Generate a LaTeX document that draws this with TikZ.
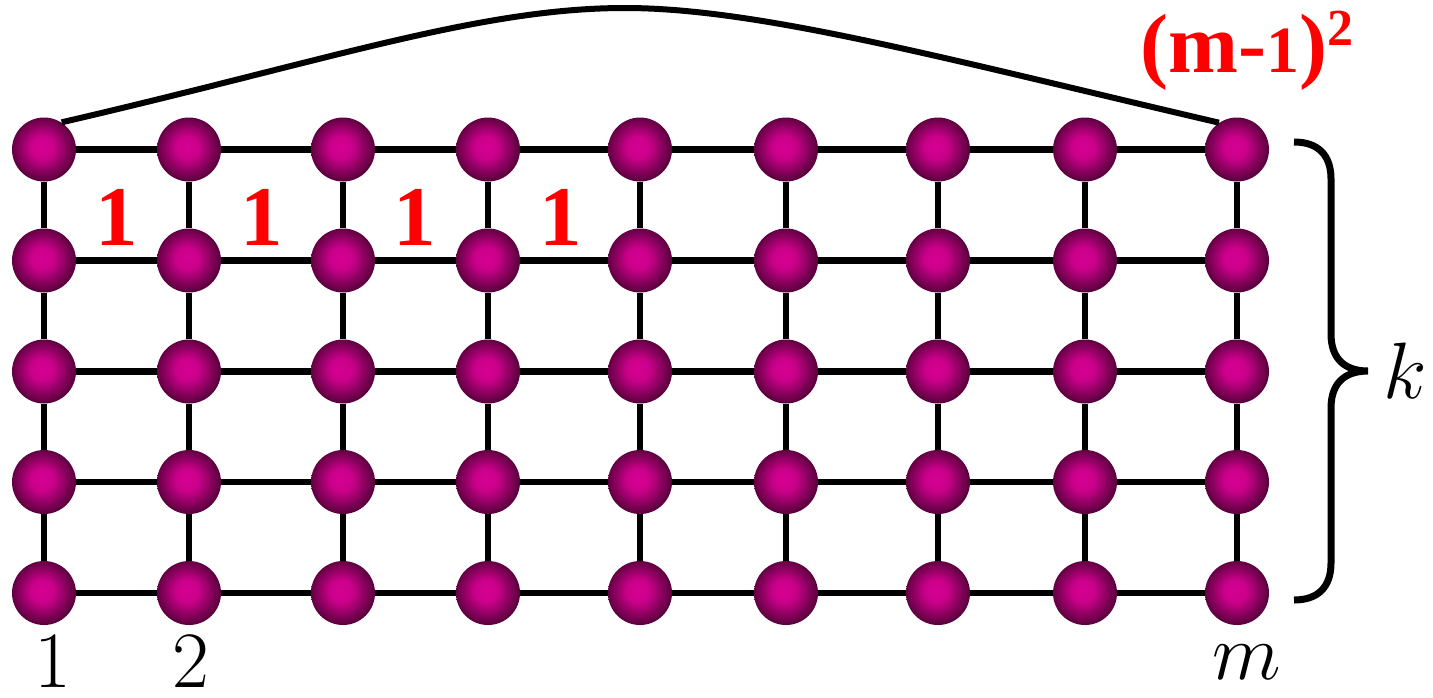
\RequirePackage{fix-cm}
\documentclass[tikz,border=0pt]{standalone}
\usepackage{fontspec}
\newfontfamily\redfont{Liberation Serif}
\definecolor{ballin}{RGB}{214,0,146}
\definecolor{ballout}{RGB}{92,0,62}
\definecolor{lblred}{RGB}{255,0,0}
\pgfdeclareradialshading{ballshade}{\pgfpoint{-2bp}{2bp}}{color(0bp)=(ballin); color(9bp)=(ballin!90!ballout); color(25bp)=(ballout); color(50bp)=(ballout)}
\begin{document}
\begin{tikzpicture}[x=0.5pt,y=-0.5pt,
  ball/.style={circle,minimum size=32pt,inner sep=0pt,shading=ballshade},
  gridline/.style={line width=3.25pt},
  one/.style={anchor=base,text=lblred,inner sep=0pt,font=\redfont\bfseries\fontsize{42.5}{48}\selectfont},
  idx/.style={anchor=base,inner sep=0pt,font=\fontsize{40}{48}\selectfont}]
\useasboundingbox (0,0) rectangle (1433,697);
% balls
\foreach \i/\x in {0/44,1/189,2/343,3/488,4/640,5/786,6/938,7/1085,8/1237}{
  \foreach \j/\y in {0/149.5,1/260.5,2/371.5,3/482,4/593}{
    \node[ball] (n\j\i) at (\x,\y) {};
  }
}
% horizontal edges
\foreach \j in {0,...,4}{
  \foreach \i [evaluate=\i as \k using int(\i+1)] in {0,...,7}{
    \draw[gridline] (n\j\i) -- (n\j\k);
  }
}
% vertical edges
\foreach \i in {0,...,8}{
  \foreach \j [evaluate=\j as \k using int(\j+1)] in {0,...,3}{
    \draw[gridline] (n\j\i) -- (n\k\i);
  }
}
% top curve
\coordinate (peak) at (625,8);
\draw[line width=3pt] (n00.57) .. controls (330,60) and (480,8) .. (peak)
  .. controls (760,8) and (950,60) .. (n08.124);
% brace
\draw[line width=3.5pt] (1294,142) .. controls (1318,142) and (1331,155) .. (1331,179)
  -- (1331,334) .. controls (1331,358) and (1344,371) .. (1368,371)
  .. controls (1344,371) and (1331,384) .. (1331,408)
  -- (1331,563) .. controls (1331,587) and (1318,600) .. (1294,600);
% red labels
\node[one] (o1) at (116.5,245) {1};
\node[one] (o2) at (262,245) {1};
\node[one] (o3) at (415,245) {1};
\node[one] (o4) at (561,245) {1};
\node[anchor=base west,inner sep=0pt,text=lblred,font=\redfont\bfseries] (mm) at (1140,72)
  {{\fontsize{42}{46}\selectfont(m-}{\fontsize{33}{36}\selectfont1}{\fontsize{42}{46}\selectfont)}\raisebox{13.5pt}{\fontsize{26}{28}\selectfont2}};
% index labels
\node[idx] (l1) at (53,687) {$1$};
\node[idx] (l2) at (191,687) {$2$};
\node[idx] (lm) at (1247,679) {$m$};
\node[idx,anchor=base west] (lk) at (1383,398) {$k$};
\end{tikzpicture}
\end{document}
